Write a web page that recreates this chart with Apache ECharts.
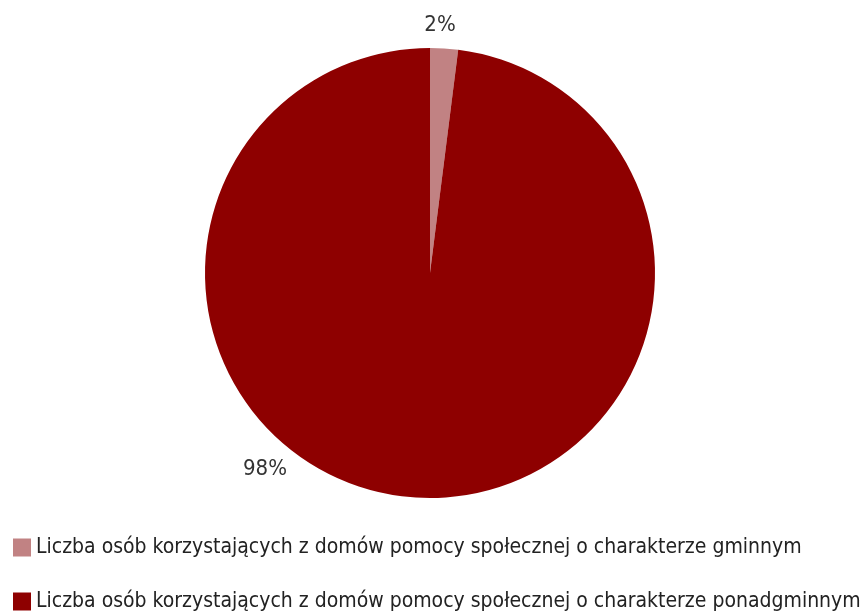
<!DOCTYPE html>
<html>
<head>
<meta charset="utf-8">
<script src="https://cdn.jsdelivr.net/npm/echarts@6/dist/echarts.min.js"></script>
<style>
  html, body { margin: 0; padding: 0; background: #ffffff; }
  #chart { width: 865px; height: 612px; }
</style>
</head>
<body>
<div id="chart"></div>
<script>
// Pie categories and their shares (%)
const categories = [
  'Liczba osób korzystających z domów pomocy społecznej o charakterze gminnym',
  'Liczba osób korzystających z domów pomocy społecznej o charakterze ponadgminnym'
];
const shares = [2, 98];
const sliceColors = ['#C18283', '#8E0000'];

const FONT = '"DejaVu Sans Condensed", "Liberation Sans Narrow", "Roboto", sans-serif';

const chart = echarts.init(document.getElementById('chart'));
chart.setOption({
  animation: false,
  color: sliceColors,
  legend: {
    orient: 'vertical',
    left: 8,
    top: 532,
    height: 80,
    itemWidth: 18,
    itemHeight: 18,
    itemGap: 33,
    icon: 'rect',
    textStyle: { fontFamily: FONT, fontSize: 21, color: '#222222' },
    data: categories
  },
  series: [{
    type: 'pie',
    center: [430, 273],
    radius: 225,
    startAngle: 90,
    clockwise: true,
    avoidLabelOverlap: false,
    data: categories.map((name, i) => ({ name, value: shares[i] })),
    label: {
      show: true,
      position: 'outside',
      formatter: p => p.value + '%',
      fontFamily: FONT,
      fontSize: 22,
      color: '#333333'
    },
    labelLine: { show: false },
    labelLayout: function (params) {
      if (params.dataIndex === 1) {
        return { x: 265, y: 469, align: 'center', verticalAlign: 'middle' };
      }
      return { x: 440, y: 25, align: 'center', verticalAlign: 'middle' };
    },
    itemStyle: { borderColor: '#ffffff', borderWidth: 0 },
    emphasis: { disabled: true }
  }]
});
</script>
</body>
</html>
